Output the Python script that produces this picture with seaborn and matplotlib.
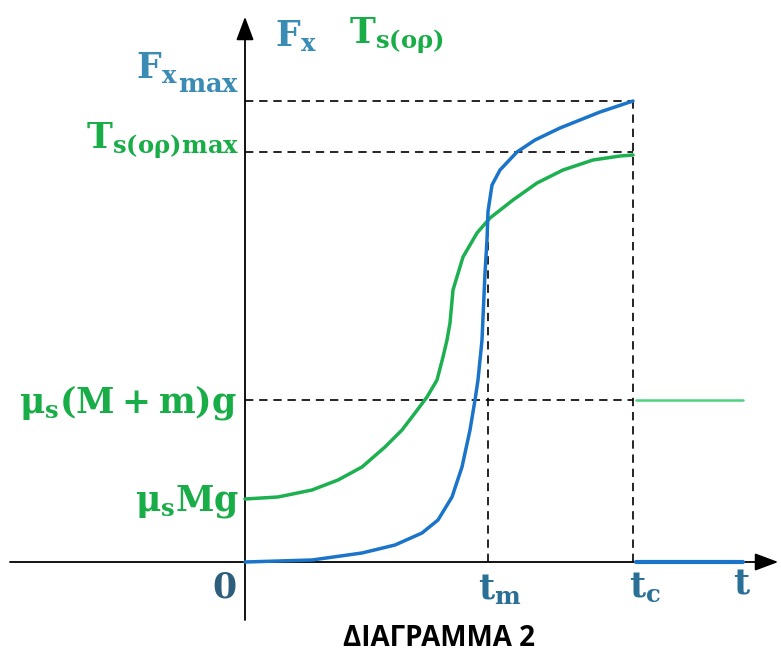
import matplotlib
matplotlib.use("Agg")
import matplotlib.pyplot as plt
import seaborn as sns

# ---- data (t in arbitrary units, origin at 0) ----
t_fx = [0, 67, 117, 150, 177, 193, 207, 217, 225, 230, 233, 237, 240, 242, 243, 243, 247, 255, 272, 290, 315, 355, 388]
fx = [0, 2, 9, 17, 29, 42, 65, 95, 132, 162, 182, 222, 289, 322, 339, 362, 377, 392, 410, 422, 434, 450, 461]
t_ts = [0, 33, 67, 93, 117, 140, 157, 170, 182, 192, 198, 202, 205, 208, 218, 232, 245, 268, 292, 318, 348, 375, 388]
ts = [63, 65, 72, 82, 95, 115, 132, 149, 165, 182, 205, 222, 239, 272, 305, 329, 344, 362, 379, 392, 402, 406, 407]
t_after = [391, 498]
ts_after = [162, 162]
fx_after = [0, 0]
t_m, t_c = 243, 388
fx_max, ts_max, mu_mmg, mu_mg = 461, 410, 162, 64

sns.set_theme(style="white")
plt.rcParams["mathtext.fontset"] = "custom"
plt.rcParams["mathtext.rm"] = "DejaVu Serif:bold"
plt.rcParams["mathtext.bf"] = "DejaVu Serif:bold"
plt.rcParams["mathtext.it"] = "DejaVu Serif:bold"

fig = plt.figure(figsize=(7.81, 6.53), dpi=100)
ax = fig.add_axes([0, 0, 1, 1])
ax.set_xlim(-245, 536)
ax.set_ylim(-91, 562)
ax.axis("off")

BLUE = "#1a74c9"
GREEN = "#1cb050"
LBLUE = "#3a8cb4"
DBLUE = "#2a6f96"
LGREEN = "#19ad48"

# dashed guides
dash = dict(color="black", lw=1.2, dashes=(5, 3.5), zorder=1)
for yv in (fx_max, ts_max, mu_mmg):
    ax.plot([0, t_c], [yv, yv], **dash)
ax.plot([t_m, t_m], [0, 342], **dash)
ax.plot([t_c, t_c], [0, fx_max], **dash)

# axes with arrows
ax.plot([0, 0], [-58, 530], color="black", lw=1.3, zorder=2)
ax.annotate("", xy=(0, 548), xytext=(0, 525),
            arrowprops=dict(arrowstyle="-|>,head_length=1.2,head_width=0.45", color="black", lw=1.3))
ax.plot([-235, 520], [0, 0], color="black", lw=1.3, zorder=2)
ax.annotate("", xy=(536, 0), xytext=(515, 0),
            arrowprops=dict(arrowstyle="-|>,head_length=1.2,head_width=0.45", color="black", lw=1.3))

# curves
sns.lineplot(x=t_ts, y=ts, ax=ax, color=GREEN, lw=2.5, sort=False, zorder=3)
sns.lineplot(x=t_fx, y=fx, ax=ax, color=BLUE, lw=2.5, sort=False, zorder=4)
sns.lineplot(x=t_after, y=ts_after, ax=ax, color="#4fd27f", lw=1.8, sort=False, zorder=3)
sns.lineplot(x=t_after, y=fx_after, ax=ax, color=BLUE, lw=3.0, sort=False, zorder=4)

# labels
fs = 25
ax.text(-67, 484, r"$\mathbf{F_x}$", color=LBLUE, fontsize=fs, ha="right", va="baseline")
ax.text(-67, 470, r"$\mathbf{max}$", color=LBLUE, fontsize=18.5, ha="left", va="baseline")
ax.text(-6, 421, r"$\mathbf{T_{s(o\rho)max}}$", color=LGREEN, fontsize=fs, ha="right", va="center")
ax.text(-8, 160, r"$\mathbf{\mu_s(M+m)g}$", color=LGREEN, fontsize=fs, ha="right", va="center")
ax.text(-6, 61, r"$\mathbf{\mu_s Mg}$", color=LGREEN, fontsize=fs, ha="right", va="center")
ax.text(30, 526, r"$\mathbf{F_x}$", color=LBLUE, fontsize=fs, ha="left", va="center")
ax.text(104, 526, r"$\mathbf{T_{s(o\rho)}}$", color=LGREEN, fontsize=fs, ha="left", va="center")
ax.text(-21, -25, r"$\mathbf{0}$", color="#2d5f7c", fontsize=fs, ha="center", va="center")
ax.text(t_m + 12, -28, r"$\mathbf{t_m}$", color=DBLUE, fontsize=fs, ha="center", va="center")
ax.text(t_c + 12, -26, r"$\mathbf{t_c}$", color=DBLUE, fontsize=fs, ha="center", va="center")
ax.text(497, -22, r"$\mathbf{t}$", color=DBLUE, fontsize=fs, ha="center", va="center")

ax.text(194, -76, "ΔΙΑΓΡΑΜΜΑ 2", color="black", fontsize=20, fontweight="bold",
        family=["Open Sans", "DejaVu Sans"], ha="center", va="center")

fig.savefig("out.png", dpi=100)
